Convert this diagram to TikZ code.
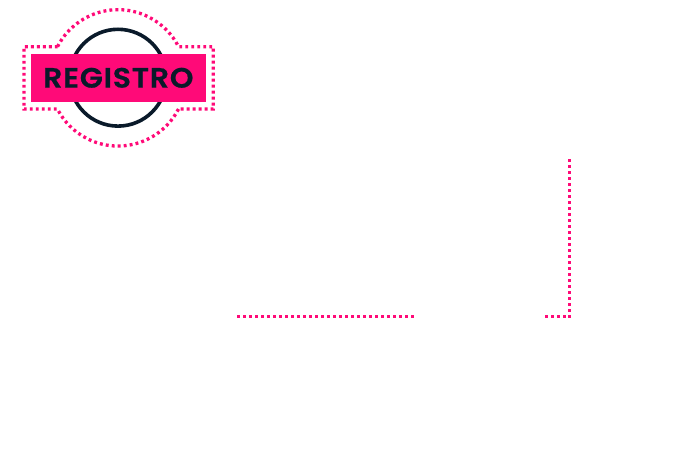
\documentclass[tikz,border=0pt]{standalone}
\usepackage{fontspec}
\setmainfont{Poppins}
\newfontfamily\bannerfont[FakeStretch=1.07,LetterSpace=2.8]{Poppins SemiBold}
\definecolor{hotpink}{HTML}{FF0A78}
\definecolor{inkdark}{HTML}{0A1A2A}
\tikzset{
  dotline/.style={draw=hotpink,line width=3.3pt,dash pattern=on 2.9pt off 3.1pt},
  ring/.style={draw=inkdark,line width=3.6pt},
  banner/.style={fill=hotpink,inner sep=0pt,minimum width=175.5pt,minimum height=47.5pt,text=inkdark,font=\bannerfont\fontsize{28}{30}\selectfont\addfontfeature{FakeBold=0.6}}
}
\begin{document}
\begin{tikzpicture}[x=1pt,y=-1pt]
\useasboundingbox (0,0) rectangle (674,466);
\fill[white] (0,0) rectangle (674,466);
\draw[ring] (118,77.7) circle[radius=48.4];
\draw[dotline] (57.5,46.7) arc[start angle=-152.9,end angle=-27.1,radius=68] -- (213.3,46.7) -- (213.3,109) -- (178.5,109);
\draw[dotline] (178.5,109) arc[start angle=27.1,end angle=152.9,radius=68] -- (24,109) -- (24,46.7) -- (57.5,46.7);
\node[banner] (title) at (118.3,77.8) {REGISTRO};
\coordinate (lineA) at (237.2,316.4);
\coordinate (lineB) at (414.2,316.4);
\coordinate (lineC) at (545.2,316.4);
\coordinate (lineD) at (571,316.4);
\coordinate (lineE) at (569.4,159.2);
\coordinate (lineF) at (569.4,318);
\draw[dotline] (lineA) -- (lineB);
\draw[dotline] (lineE) -- (lineF);
\draw[dotline] (lineC) -- (lineD);
\end{tikzpicture}
\end{document}
